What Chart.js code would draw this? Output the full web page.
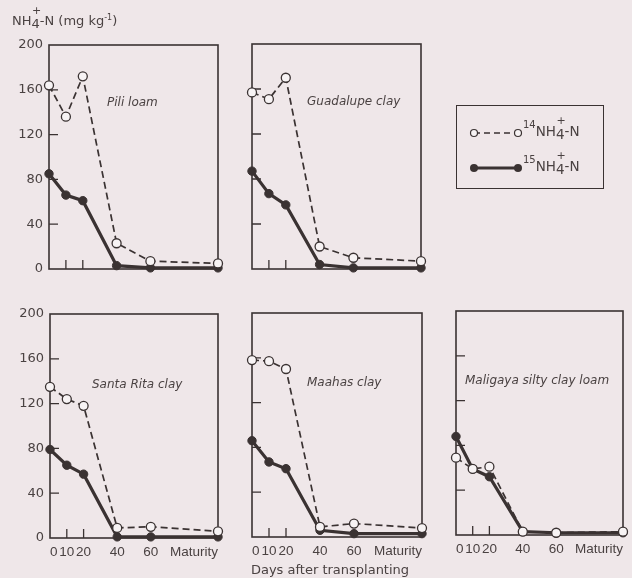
<!DOCTYPE html>
<html>
<head>
<meta charset="utf-8">
<script src="https://cdn.jsdelivr.net/npm/chart.js@4.4.1/dist/chart.umd.min.js"></script>
<style>
  body { margin: 0; background: #efe7e9; font-family: "DejaVu Sans", sans-serif; color: #4a4242; }
  #wrap { position: relative; width: 632px; height: 578px; overflow: hidden; }
  #wrap canvas { position: absolute; left: 0; top: 0; }
  .ion { position: relative; top: 3px; }
  .ion .plus { position: absolute; left: 0.5px; top: -12px; font-size: 11px; }
  #ytitle { position: absolute; left: 12px; top: 13px; font-size: 13px; white-space: nowrap; }
  #ytitle sup { font-size: 8px; }
  #xtitle { position: absolute; left: 0; width: 660px; top: 562px; text-align: center; font-size: 13px; }
  #legend { position: absolute; left: 456px; top: 105px; width: 146px; height: 82px; border: 1.5px solid #3a3232; }
  #legend svg { position: absolute; left: 0; top: 0; }
  .lrow { position: absolute; left: 66px; font-size: 13.5px; white-space: nowrap; }
  .lrow sup { font-size: 10px; position: relative; top: -2px; }
</style>
</head>
<body>
<div id="wrap">
  <canvas id="c0" width="632" height="578"></canvas>
  <canvas id="c1" width="632" height="578"></canvas>
  <canvas id="c2" width="632" height="578"></canvas>
  <canvas id="c3" width="632" height="578"></canvas>
  <canvas id="c4" width="632" height="578"></canvas>

  <div id="ytitle">NH<span class="ion">4<span class="plus">+</span></span>-N (mg kg<sup>-1</sup>)</div>
  <div id="xtitle">Days after transplanting</div>

  <div id="legend">
    <svg width="146" height="82">
      <line x1="17" y1="27" x2="61" y2="27" stroke="#3a3232" stroke-width="1.6" stroke-dasharray="6,4"/>
      <circle cx="17" cy="27" r="3.5" fill="#f7f3f4" stroke="#3a3232" stroke-width="1.2"/>
      <circle cx="61" cy="27" r="3.5" fill="#f7f3f4" stroke="#3a3232" stroke-width="1.2"/>
      <line x1="17" y1="62" x2="61" y2="62" stroke="#3a3232" stroke-width="3"/>
      <circle cx="17" cy="62" r="4" fill="#3a3232"/>
      <circle cx="61" cy="62" r="4" fill="#3a3232"/>
    </svg>
    <div class="lrow" style="top:15px"><sup>14</sup>NH<span class="ion">4<span class="plus">+</span></span>-N</div>
    <div class="lrow" style="top:50px"><sup>15</sup>NH<span class="ion">4<span class="plus">+</span></span>-N</div>
  </div>
</div>

<script>
// days after transplanting (maturity plotted at 100)
const days = [0, 10, 20, 40, 60, 100];
const xTickLabels = ["0", "10", "20", "40", "60", "Maturity"];
const yInnerTicks = [40, 80, 120, 160];
const xInnerTicks = [10, 20];

const soils = ["Pili loam", "Guadalupe clay", "Santa Rita clay", "Maahas clay", "Maligaya silty clay loam"];

// 14NH4+-N (open circles, dashed)
const pili14 = [164, 136, 172, 23, 7, 5];
const guadalupe14 = [157, 151, 170, 20, 10, 7];
const santaRita14 = [135, 124, 118, 9, 10, 6];
const maahas14 = [158, 157, 150, 9, 12, 8];
const maligaya14 = [69, 59, 61, 3, 2, 3];

// 15NH4+-N (filled circles, solid)
const pili15 = [85, 66, 61, 3, 1, 1];
const guadalupe15 = [87, 67, 57, 4, 1, 1];
const santaRita15 = [79, 65, 57, 1, 1, 1];
const maahas15 = [86, 67, 61, 6, 3, 3];
const maligaya15 = [88, 59, 52, 3, 2, 2];

const n14 = [pili14, guadalupe14, santaRita14, maahas14, maligaya14];
const n15 = [pili15, guadalupe15, santaRita15, maahas15, maligaya15];

const ink = "#3a3232";
const textColor = "#4a4242";
const fam = "'DejaVu Sans', sans-serif";

// frame of each panel in page pixels, label offset inside the frame
const panels = [
    { left: 49, right: 218, top: 45, bottom: 269, yLabels: true, xLabels: false, lx: 58, ly: 58 },
    { left: 252, right: 421, top: 44, bottom: 269, yLabels: false, xLabels: false, lx: 55, ly: 58 },
    { left: 50, right: 218, top: 314, bottom: 538, yLabels: true, xLabels: true, lx: 42, ly: 71 },
    { left: 252, right: 422, top: 313, bottom: 537, yLabels: false, xLabels: true, lx: 55, ly: 70 },
    { left: 456, right: 623, top: 311, bottom: 535, yLabels: false, xLabels: true, lx: 9, ly: 70 }
];

// frame box, inward tick marks and the soil name
const framePlugin = {
    id: "frameTicks",
    beforeDatasetsDraw(chart, args, opts) {
        const ctx = chart.ctx;
        const a = chart.chartArea;
        const xs = chart.scales.x, ys = chart.scales.y;
        ctx.save();
        ctx.strokeStyle = ink;
        ctx.lineWidth = 1.6;
        ctx.strokeRect(a.left, a.top, a.right - a.left, a.bottom - a.top);
        ctx.lineWidth = 1.3;
        ctx.beginPath();
        yInnerTicks.forEach(v => {
            const y = ys.getPixelForValue(v);
            ctx.moveTo(a.left, y);
            ctx.lineTo(a.left + 9, y);
        });
        xInnerTicks.forEach(v => {
            const x = xs.getPixelForValue(v);
            ctx.moveTo(x, a.bottom);
            ctx.lineTo(x, a.bottom - 9);
        });
        ctx.stroke();
        ctx.restore();
    },
    afterDraw(chart, args, opts) {
        const ctx = chart.ctx;
        const a = chart.chartArea;
        ctx.save();
        ctx.fillStyle = textColor;
        ctx.font = "oblique 12px " + fam;
        ctx.textBaseline = "middle";
        ctx.fillText(opts.name, a.left + opts.lx, a.top + opts.ly);
        ctx.restore();
    }
};

function makePanel(i) {
    const p = panels[i];
    new Chart(document.getElementById("c" + i), {
        type: "line",
        data: {
            datasets: [
                {
                    label: "14NH4+-N",
                    data: days.map((d, k) => ({ x: d, y: n14[i][k] })),
                    borderColor: ink,
                    borderWidth: 1.7,
                    borderDash: [7, 4],
                    pointRadius: 4.5,
                    pointBackgroundColor: "#f7f3f4",
                    pointBorderColor: ink,
                    pointBorderWidth: 1.3,
                    clip: false
                },
                {
                    label: "15NH4+-N",
                    data: days.map((d, k) => ({ x: d, y: n15[i][k] })),
                    borderColor: ink,
                    borderWidth: 3.2,
                    pointRadius: 4.2,
                    pointBackgroundColor: ink,
                    pointBorderColor: ink,
                    pointBorderWidth: 1,
                    clip: false
                }
            ]
        },
        options: {
            responsive: false,
            animation: false,
            devicePixelRatio: 1,
            layout: {
                padding: { left: p.left - 40, top: p.top, right: 632 - p.right, bottom: 578 - p.bottom - 22 }
            },
            plugins: {
                legend: { display: false },
                tooltip: { enabled: false },
                frameTicks: { name: soils[i], lx: p.lx, ly: p.ly }
            },
            scales: {
                x: {
                    type: "linear",
                    min: 0,
                    max: 100,
                    grid: { display: false, drawTicks: false },
                    border: { display: false },
                    afterBuildTicks: s => { s.ticks = days.map(v => ({ value: v })); },
                    afterFit: s => { s.height = 22; },
                    ticks: {
                        display: p.xLabels,
                        autoSkip: false,
                        maxRotation: 0,
                        align: "inner",
                        padding: 6,
                        color: textColor,
                        font: { family: "'Liberation Sans', sans-serif", size: 13.5 },
                        callback: v => xTickLabels[days.indexOf(v)]
                    }
                },
                y: {
                    min: 0,
                    max: 200,
                    grid: { display: false, drawTicks: false },
                    border: { display: false },
                    afterFit: s => { s.width = 40; },
                    ticks: {
                        display: p.yLabels,
                        stepSize: 40,
                        padding: 6,
                        color: textColor,
                        font: { family: fam, size: 13 }
                    }
                }
            }
        },
        plugins: [framePlugin]
    });
}

panels.forEach((p, i) => makePanel(i));
</script>
</body>
</html>
